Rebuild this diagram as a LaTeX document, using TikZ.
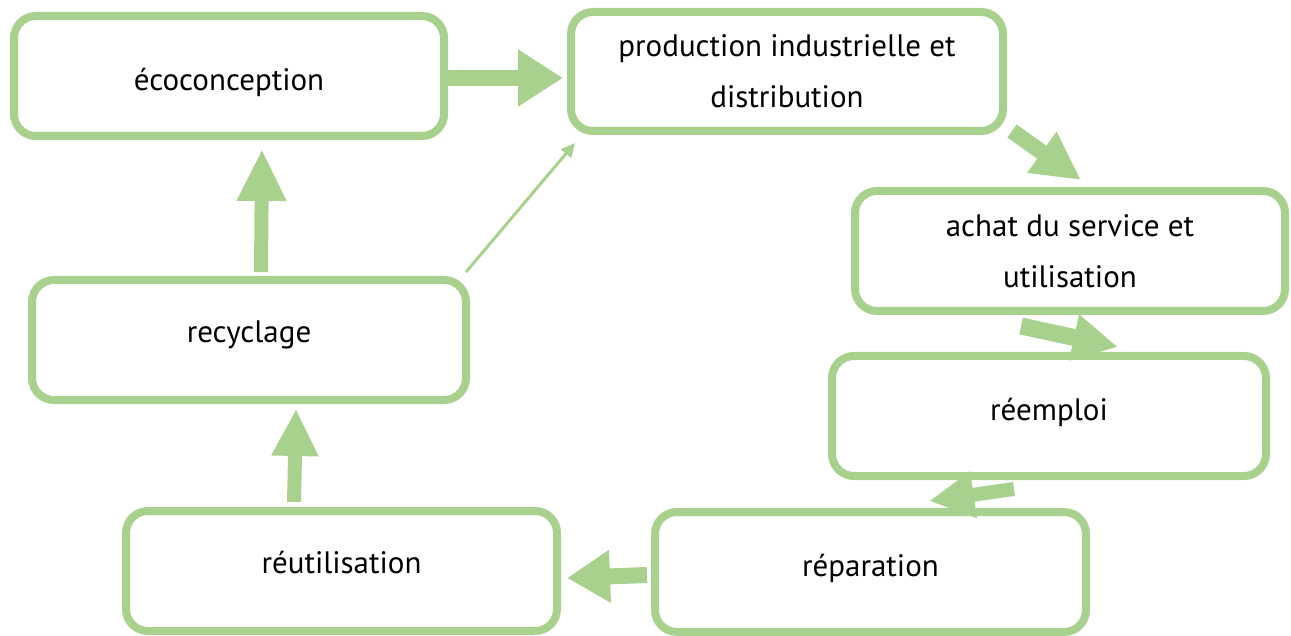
\documentclass[tikz,border=0pt]{standalone}
\usepackage{fontspec}
\setmainfont{PT Sans}
\usetikzlibrary{arrows.meta,calc}
\definecolor{lg}{RGB}{169,209,142}
\newcommand{\shifttext}[2]{\raisebox{#1}[0pt][0pt]{#2}}
\tikzset{
  box/.style={draw=lg, line width=8pt, rounded corners=22pt, fill=white,
    minimum width=#1, minimum height=120pt, inner sep=0pt, align=center,
    font=\fontsize{31pt}{51pt}\selectfont},
  box/.default=430pt,
  fat/.style={draw=lg, line width=#1},
}
\begin{document}
\begin{tikzpicture}[x=1pt,y=-1pt]
\useasboundingbox (0,0) rectangle (1291,636);
\node[box=430pt] (eco) at (229,76) {\shifttext{-15pt}{écoconception}};
\node[box=432pt, minimum height=119pt] (prod) at (787,71.5) {production industrielle et\\distribution};
\node[box=430pt] (achat) at (1070,251) {achat du service et\\utilisation};
\node[box=434pt] (reem) at (1049,416) {\shifttext{-4pt}{réemploi}};
\node[box=431pt] (repa) at (870.5,572) {\shifttext{-4pt}{réparation}};
\node[box=431pt] (reut) at (341.5,571) {\shifttext{-2pt}{réutilisation}};
\node[box=434pt] (recy) at (249,340) {\shifttext{-3pt}{recyclage}};

% arrows
\draw[fat=16pt, -{Triangle[length=45pt,width=54pt]}]
  ($(eco.east)+(0,2)$) -- ($(eco.east -| prod.west)+(-4,2)$);
\draw[fat=16pt, -{Triangle[length=48pt,width=47pt]}]
  ($(prod.south east)+(5,-4)$) -- ($(achat.north west)+(230,-7)$);
\draw[fat=17pt, -{Triangle[length=45pt,width=44pt]}]
  ($(achat.south west)+(170,11)$) -- ($(reem.north west)+(290,-5)$);
\draw[fat=14pt, -{Triangle[length=45pt,width=44pt]}]
  ($(reem.south west)+(186,9)$) -- ($(repa.north west)+(278,-7)$);
\draw[fat=16pt, -{Triangle[length=43pt,width=50pt]}]
  ($(repa.west)+(-4,3)$) -- ($(reut.east)+(6,7)$);
\draw[fat=14pt, -{Triangle[length=47pt,width=44pt]}]
  ($(reut.north west)+(172,-5)$) -- ($(recy.south west)+(268,5)$);
\draw[fat=14pt, -{Triangle[length=52pt,width=46pt]}]
  ($(recy.north west)+(233,-4)$) -- ($(eco.south west)+(252,9)$);
\draw[fat=3pt, -{Triangle[length=14pt,width=13pt]}]
  ($(recy.north east)+(-4,-4)$) -- ($(prod.south west)+(8,8)$);
\end{tikzpicture}
\end{document}
